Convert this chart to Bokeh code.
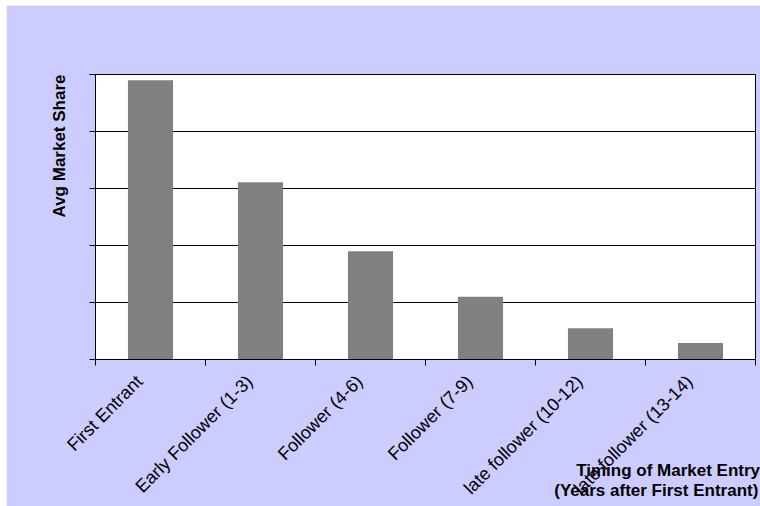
from math import pi
from bokeh.plotting import figure
from bokeh.models import Range1d, FixedTicker, LinearAxis, Title, ColumnDataSource
from bokeh.embed import file_html
from bokeh.resources import INLINE

categories = ["First Entrant", "Early Follower (1-3)", "Follower (4-6)",
              "Follower (7-9)", "late follower (10-12)", "late follower (13-14)"]
avg_market_share = [49.0, 31.1, 19.0, 11.0, 5.5, 2.9]
y_ticks = [0, 10, 20, 30, 40, 50]
x_title_lines = ["Timing of Market Entry", "(Years after First Entrant)"]
y_title = "Avg Market Share"

n = len(categories)
positions = [i + 0.5 for i in range(n)]
boundaries = list(range(n + 1))
LABEL_SHIFT = -0.1  # small visual nudge of the rotated labels (style)
label_pos = [x + LABEL_SHIFT for x in positions]

# the axis title is centred on the axis end; trailing no-break spaces push
# each line's visible text to the left so it ends at the right edge
NBSP = "\u00a0"
PADS = [37, 42]
x_title = "\n".join(t + NBSP * k for t, k in zip(x_title_lines, PADS))

src = ColumnDataSource(dict(x=positions, y=avg_market_share, cat=categories))

FONT = "Liberation Sans"
LAV = "#CCCCFF"

p = figure(width=754, height=501,
           x_range=Range1d(0, n), y_range=Range1d(y_ticks[0], y_ticks[-1]),
           output_backend="svg", toolbar_location=None, x_axis_type=None,
           background_fill_color="white", border_fill_color=LAV,
           min_border_left=89, min_border_right=5, min_border_top=69, min_border_bottom=147,
           outline_line_color="black", outline_line_width=1,
           styles={"margin-left": "6px", "margin-top": "5px"})

p.vbar(x="x", top="y", width=0.41, source=src, fill_color="#808080", line_color=None)

# y axis (ticks only, no labels)
yax = p.yaxis[0]
yax.ticker = FixedTicker(ticks=y_ticks, minor_ticks=[])
yax.major_label_overrides = {t: "" for t in y_ticks}
yax.major_tick_out = 6
yax.major_tick_in = 0
yax.minor_tick_line_color = None
yax.axis_line_color = "black"
yax.major_tick_line_color = "black"
p.ygrid.grid_line_color = "black"
p.ygrid.grid_line_width = 1

# x axis: visible ticks at category boundaries, rotated labels at category centres
xax = LinearAxis(ticker=FixedTicker(ticks=label_pos, minor_ticks=boundaries),
                 major_label_overrides={float(x): c for x, c in zip(label_pos, categories)},
                 major_label_orientation=pi / 4,
                 major_tick_line_color=None, major_tick_out=0, major_tick_in=0,
                 minor_tick_out=6, minor_tick_in=0, minor_tick_line_color="black",
                 axis_line_color="black",
                 major_label_text_font=FONT, major_label_text_font_size="18px",
                 major_label_text_color="black", major_label_standoff=13,
                 axis_label=x_title, axis_label_standoff=-47,
                 axis_label_text_font=FONT, axis_label_text_font_style="bold",
                 axis_label_text_font_size="17px", axis_label_text_color="black",
                 axis_label_text_line_height=1.05)
if "axis_label_align" in xax.properties():
    for v in ("end", "right"):
        try:
            xax.axis_label_align = v
            break
        except Exception:
            pass
p.add_layout(xax, "below")

p.add_layout(Title(text=y_title, align="right", offset=0, standoff=41,
                   text_font=FONT, text_font_style="bold", text_font_size="17px",
                   text_color="black"), "left")

open("out.html", "w").write(file_html(p, INLINE))
